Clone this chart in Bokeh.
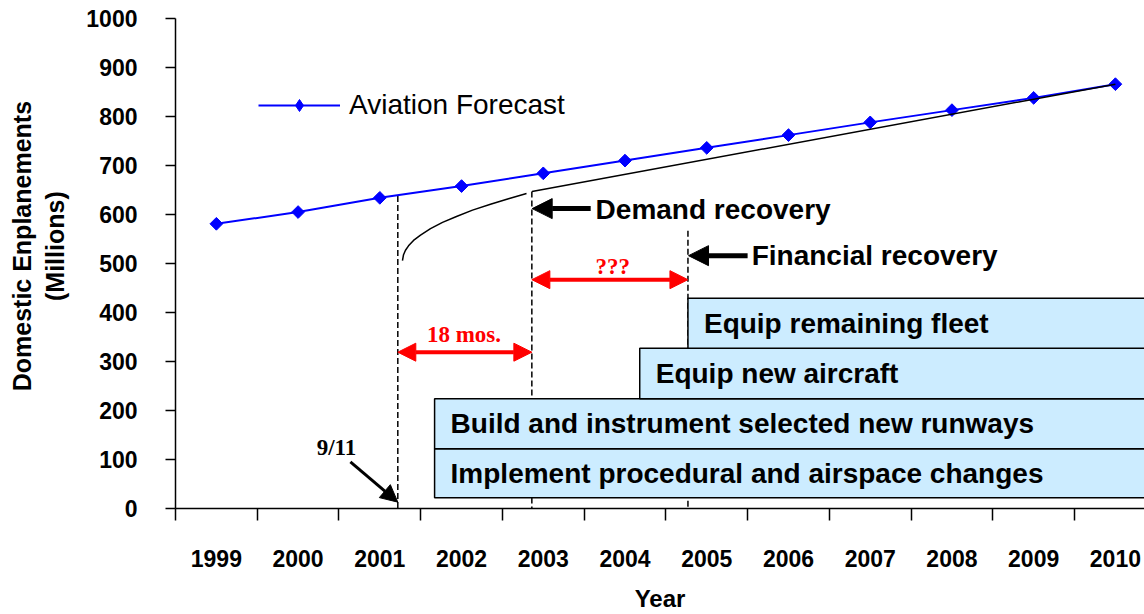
import numpy as np
from bokeh.plotting import figure
from bokeh.models import Range1d, FixedTicker, Legend, LegendItem, Arrow, NormalHead
from bokeh.core.properties import value
from bokeh.embed import file_html
from bokeh.resources import INLINE

# ---------------- data ----------------
years = [str(y) for y in range(1999, 2011)]
year_mid = [y + 0.5 for y in range(1999, 2011)]          # category centres
year_edges = list(range(1999, 2012))                      # category boundaries
forecast = [581, 605, 634, 658, 684, 710, 736, 762, 788, 813, 838, 866]

# recovery path after 9/11
recovery_curve_x = [2001.777, 2001.790, 2001.814, 2001.851, 2001.912, 2001.998, 2002.120,
                    2002.267, 2002.438, 2002.634, 2002.854, 2003.074, 2003.295]
recovery_curve_y = [506, 518, 527, 536, 547, 558, 571, 584, 596, 609, 621, 632, 643]
recovery_line_x = [2003.362, 2010.5]
recovery_line_y = [647, 866]

# events (fractional year) and the height where their dashed marker starts
event_names = ["9/11", "Demand recovery", "Financial recovery"]
event_x = [2001.72, 2003.36, 2005.27]
event_top = [638, 647, 567]

# implementation phases
phase_labels = ["Implement procedural and airspace changes",
                "Build and instrument selected new runways",
                "Equip new aircraft",
                "Equip remaining fleet"]
phase_start = [2002.17, 2002.17, 2004.68, 2005.27]
phase_end = [2012, 2012, 2012, 2012]
phase_bottom = [22, 122, 224, 327]
phase_top = [122, 224, 327, 429]

# red gap spans
gap_labels = ["18 mos.", "???"]
gap_start = [2001.72, 2003.36]
gap_end = [2003.36, 2005.27]
gap_y = [319, 467]
gap_label_x = [2002.53, 2004.35]
gap_label_y = [355, 494]

# black pointer arrows
pointer_tail_x = [2001.14, 2004.08, 2006.0]
pointer_tail_y = [95, 612, 516]
pointer_tip_x = [2001.72, 2003.364, 2005.277]
pointer_tip_y = [13, 612, 516]
pointer_label_x = [2000.97, 2004.14, 2006.05]
pointer_label_y = [125, 610, 516]

y_title_lines = ["Domestic Enplanements", "(Millions)"]

SANS = "Liberation Sans"
SERIF = "Liberation Serif"

p = figure(width=1144, height=614,
           x_range=Range1d(1999, 2010.856), y_range=Range1d(0, 1000),
           output_backend="svg", toolbar_location=None,
           min_border_left=175, min_border_right=0, min_border_top=18, min_border_bottom=106)
p.grid.visible = False
p.outline_line_color = None
p.background_fill_color = "white"

# x axis
xa = p.xaxis[0]
xa.ticker = FixedTicker(ticks=year_mid, minor_ticks=year_edges)
xa.major_label_overrides = {x: s for x, s in zip(year_mid, years)}
xa.major_tick_out = 0
xa.major_tick_in = 0
xa.minor_tick_out = 12
xa.minor_tick_in = 0
xa.minor_tick_line_color = "black"
xa.minor_tick_line_width = 1.5
xa.axis_line_color = "black"
xa.axis_line_width = 1.5
xa.major_label_standoff = 29
xa.major_label_text_font = SANS
xa.major_label_text_font_style = "bold"
xa.major_label_text_font_size = "23px"
xa.major_label_text_color = "black"
xa.axis_label = "Year"
xa.axis_label_text_font = SANS
xa.axis_label_text_font_style = "bold"
xa.axis_label_text_font_size = "24px"
xa.axis_label_text_color = "black"
xa.axis_label_standoff = 15

# y axis
ya = p.yaxis[0]
ya.ticker = FixedTicker(ticks=list(range(0, 1001, 100)))
ya.major_tick_out = 10
ya.major_tick_in = 0
ya.minor_tick_line_color = None
ya.major_tick_line_color = "black"
ya.major_tick_line_width = 1.5
ya.axis_line_color = "black"
ya.axis_line_width = 1.5
ya.major_label_standoff = 28
ya.major_label_text_font = SANS
ya.major_label_text_font_style = "bold"
ya.major_label_text_font_size = "23px"
ya.major_label_text_color = "black"
# leading no-break spaces lift the centred title slightly above the frame centre, as in the original
pad = "\u00a0" * 5
ya.axis_label = "\n".join(pad + line for line in y_title_lines)
ya.axis_label_text_font = SANS
ya.axis_label_text_font_style = "bold"
ya.axis_label_text_font_size = "25px"
ya.axis_label_text_color = "black"
ya.axis_label_standoff = 14

# dashed event markers (under the phase boxes)
p.segment(x0=event_x, y0=event_top, x1=event_x, y1=[0] * len(event_x),
          line_color="black", line_width=1.5, line_dash="6 3")

# phase boxes
p.quad(left=phase_start, right=phase_end, bottom=phase_bottom, top=phase_top,
       fill_color="#CCECFF", line_color="black", line_width=1.5)
p.text(x=phase_start, y=[(b + t) / 2 for b, t in zip(phase_bottom, phase_top)], text=phase_labels,
       x_offset=16, text_baseline="middle", text_align="left",
       text_font=value(SANS), text_font_style="bold", text_font_size="28px", text_color="black")

# forecast
fl = p.line(year_mid, forecast, line_color="#0000FF", line_width=2)
fm = p.scatter(year_mid, forecast, marker="square", angle=np.pi / 4, size=9,
               fill_color="#0000FF", line_color="#0000FF")
# legend swatch marker (diamond; legend swatches ignore marker angle) - not drawn in the plot
fleg = p.scatter(x=[np.nan], y=[np.nan], marker="diamond", fill_color="#0000FF", line_color="#0000FF")

# recovery path
p.line(recovery_curve_x, recovery_curve_y, line_color="black", line_width=1.5)
p.line(recovery_line_x, recovery_line_y, line_color="black", line_width=1.5)

# pointer arrows
widths = [3, 5, 5]
heads = [17, 20, 20]
for i in range(3):
    p.add_layout(Arrow(end=NormalHead(size=heads[i], fill_color="black", line_color="black"),
                       x_start=pointer_tail_x[i], y_start=pointer_tail_y[i],
                       x_end=pointer_tip_x[i], y_end=pointer_tip_y[i],
                       line_color="black", line_width=widths[i]))
p.text(x=pointer_label_x[:1], y=pointer_label_y[:1], text=event_names[:1],
       text_align="center", text_baseline="middle",
       text_font=value(SERIF), text_font_style="bold", text_font_size="23px", text_color="black")
p.text(x=pointer_label_x[1:], y=pointer_label_y[1:], text=event_names[1:],
       text_align="left", text_baseline="middle",
       text_font=value(SANS), text_font_style="bold", text_font_size="28px", text_color="black")

# red gap arrows
for i in range(2):
    p.add_layout(Arrow(start=NormalHead(size=18, fill_color="red", line_color="red"),
                       end=NormalHead(size=18, fill_color="red", line_color="red"),
                       x_start=gap_start[i], y_start=gap_y[i], x_end=gap_end[i], y_end=gap_y[i],
                       line_color="red", line_width=4))
p.text(x=gap_label_x, y=gap_label_y, text=gap_labels, text_align="center", text_baseline="middle",
       text_font=value(SERIF), text_font_style="bold", text_font_size="23px", text_color="red")

legend = Legend(items=[LegendItem(label="Aviation Forecast", renderers=[fl, fleg])],
                location=(83, 387), padding=0, margin=0, spacing=0,
                glyph_width=82, glyph_height=30, label_standoff=9,
                label_text_font=SANS, label_text_font_size="28px", label_text_color="black",
                border_line_color=None, background_fill_alpha=0)
p.add_layout(legend)

open("out.html", "w").write(file_html(p, INLINE))
